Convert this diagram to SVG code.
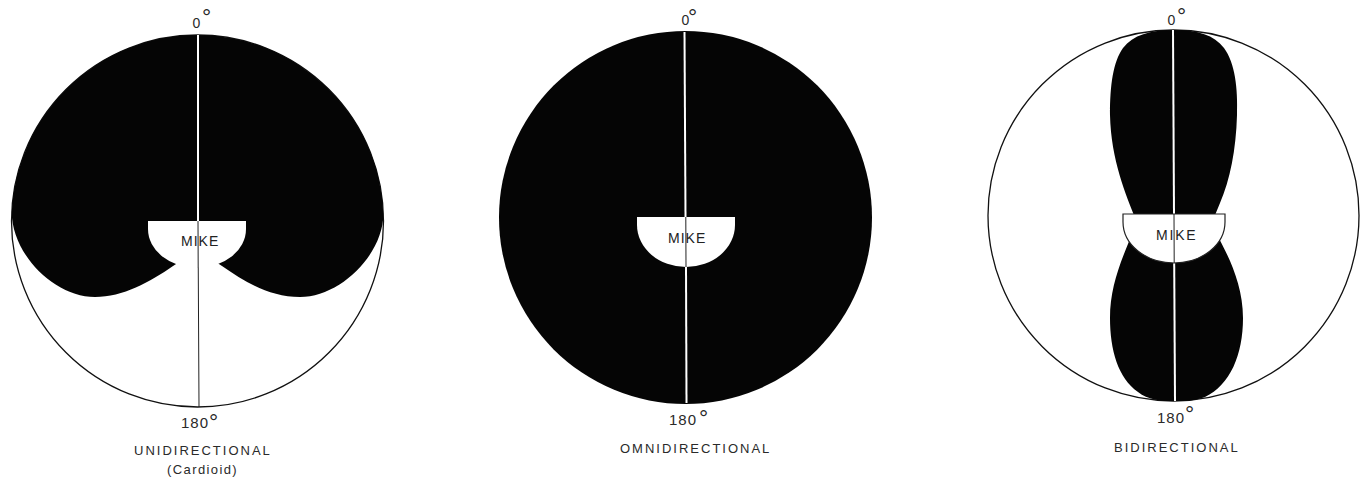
<svg xmlns="http://www.w3.org/2000/svg" width="1369" height="477" viewBox="0 0 1369 477">
<style>
  .ring { fill: #fff; stroke: #111; stroke-width: 1.3; }
  .blk { fill: #050505; stroke: none; }
  .mike { fill: #fff; stroke: none; }
  .mike-o { fill: #fff; stroke: #222; stroke-width: 1.2; }
  .axw { stroke: #fff; stroke-width: 2; fill: none; }
  .axk { stroke: #222; stroke-width: 1; fill: none; }
  .t { font-family: "Liberation Sans", Arial, sans-serif; fill: #2a2a2a; }
  .ang { font-size: 15px; letter-spacing: 1px; }
  .deg { font-size: 23px; letter-spacing: 0; font-weight: normal; }
  .zero { font-size: 14px; }
  .ttl { font-size: 13px; letter-spacing: 2px; }
  .mk { font-size: 14px; letter-spacing: 1px; fill: #222; }
</style>

<!-- Diagram 1: Unidirectional (Cardioid) -->
<g id="unidirectional">
  <circle class="ring" cx="197.5" cy="221" r="186"/>
  <path class="blk" d="M197.5,35 A186,186 0 0 1 383.4,214 C383,255 340,297 300,297 C270,297 245,282 222,266 L197.5,250 L173,266 C150,282 123,297 95,297 C55,297 12,255 11.7,212 A186,186 0 0 1 197.5,35 Z"/>
</g>

<!-- Diagram 2: Omnidirectional -->
<g id="omnidirectional">
  <circle class="blk" cx="685.5" cy="217.5" r="186.5"/>
</g>

<!-- Diagram 3: Bidirectional -->
<g id="bidirectional">
  <circle class="ring" cx="1173.5" cy="215.5" r="185.5"/>
  <path class="blk" d="M1174,30 C1198,30 1214,35 1224,48 C1235,63 1238,88 1237,115 C1236,150 1230,180 1220,203 L1213,220 L1136,220 C1126,195 1111,160 1110,115 C1110,85 1113,62 1123,48 C1133,35 1150,30 1174,30 Z"/>
  <path class="blk" d="M1136,225 L1212,225 C1222,245 1243,278 1243,318 C1243,355 1230,385 1205,397 C1195,401 1185,401 1174,401 C1160,401 1148,400 1138,392 C1118,378 1110,350 1110,318 C1110,285 1122,258 1136,225 Z"/>
</g>

<!-- Axes (0°–180° lines) -->
<g id="axes">
  <line class="axw" x1="198" y1="35" x2="198" y2="221"/>
  <line class="axk" x1="198" y1="221" x2="199" y2="407"/>
  <line class="axw" x1="684.5" y1="32" x2="685.5" y2="217"/>
  <line class="axk" x1="685.8" y1="217" x2="686" y2="267"/>
  <line class="axw" x1="686" y1="267" x2="686.5" y2="403"/>
  <line class="axw" x1="1173" y1="30" x2="1174" y2="214"/>
  <line class="axk" x1="1174" y1="214" x2="1174.2" y2="263"/>
  <line class="axw" x1="1174.2" y1="263" x2="1175" y2="401"/>
</g>

<!-- Mike nodes -->
<g id="mike-1">
  <path class="mike" d="M148,221 L246,221 L246,229 A49,39 0 0 1 148,229 Z"/>
  <line class="axk" x1="198" y1="221" x2="198.2" y2="268"/>
  <text class="t mk" x="181" y="246">MIKE</text>
</g>
<g id="mike-2">
  <path class="mike" d="M637,217 L735,217 L735,225 A49,42 0 0 1 637,225 Z"/>
  <line class="axk" x1="685.8" y1="217" x2="686" y2="267"/>
  <text class="t mk" x="668" y="243">MIKE</text>
</g>
<g id="mike-3">
  <path class="mike-o" d="M1123,214 L1225,214 L1225,222 A51,41 0 0 1 1123,222 Z"/>
  <line class="axk" x1="1174" y1="214" x2="1174.2" y2="263"/>
  <text class="t mk" x="1156" y="240" style="letter-spacing:1.8px">MIKE</text>
</g>

<!-- Labels -->
<g id="labels-1">
  <text class="t zero" x="192.5" y="28">0<tspan class="deg" x="202" y="25">°</tspan></text>
  <text class="t ang" x="181" y="428">180<tspan class="deg" x="209" y="430">°</tspan></text>
  <text class="t ttl" x="134" y="455">UNIDIRECTIONAL</text>
  <text class="t ttl" x="167" y="474" style="letter-spacing:1.4px">(Cardioid)</text>
</g>
<g id="labels-2">
  <text class="t zero" x="681.5" y="25">0<tspan class="deg" x="688" y="25">°</tspan></text>
  <text class="t ang" x="669" y="425">180<tspan class="deg" x="699" y="426">°</tspan></text>
  <text class="t ttl" x="620" y="453">OMNIDIRECTIONAL</text>
</g>
<g id="labels-3">
  <text class="t zero" x="1167.5" y="25">0<tspan class="deg" x="1177" y="24">°</tspan></text>
  <text class="t ang" x="1157" y="423">180<tspan class="deg" x="1185" y="422">°</tspan></text>
  <text class="t ttl" x="1114" y="452">BIDIRECTIONAL</text>
</g>
</svg>
